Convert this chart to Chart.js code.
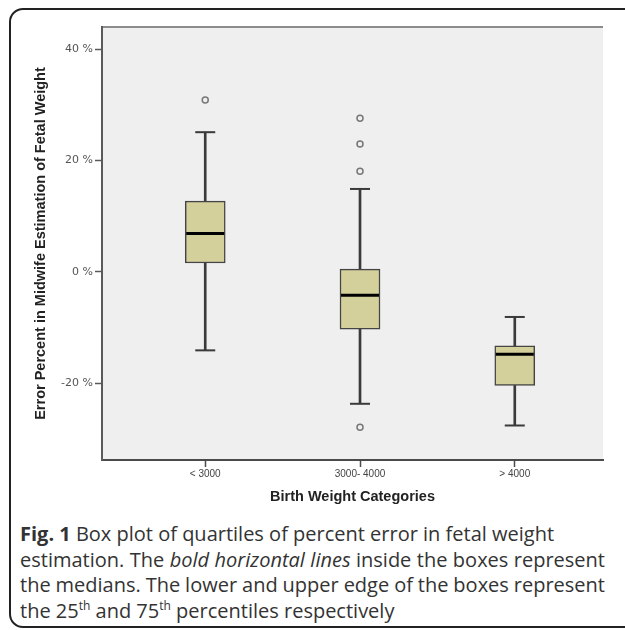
<!DOCTYPE html>
<html>
<head>
<meta charset="utf-8">
<script src="https://cdn.jsdelivr.net/npm/chart.js@4/dist/chart.umd.min.js"></script>
<style>
  html, body { margin: 0; padding: 0; background: #fff; }
  body { width: 625px; height: 630px; position: relative; overflow: hidden; }
  .frame {
    position: absolute; left: 9px; top: 8px; width: 660px; height: 620px;
    border: 2px solid #222; border-radius: 14px; box-sizing: border-box;
  }
  #wrap { position: absolute; left: 0; top: 0; width: 625px; height: 520px; }
  .caption {
    position: absolute; left: 20px; top: 521px; width: 585px;
    font-family: "Open Sans", sans-serif; font-size: 20px; line-height: 25.5px;
    color: #333; font-weight: 400;
  }
  .caption b { font-weight: 700; }
  .caption div { white-space: nowrap; }
  .caption .just { text-align: justify; text-align-last: justify; white-space: normal;
                   word-spacing: -4px; height: 25.5px; overflow: visible; }
  .caption sup { font-size: 12px; line-height: 0; vertical-align: 8px; }
</style>
</head>
<body>
<div class="frame"></div>
<div id="wrap"><canvas id="chart" width="625" height="520"></canvas></div>
<div class="caption">
  <div><b>Fig. 1</b> Box plot of quartiles of percent error in fetal weight</div>
  <div class="just">estimation. The <i>bold horizontal lines</i> inside the boxes represent</div>
  <div class="just">the medians. The lower and upper edge of the boxes represent</div>
  <div>the 25<sup>th</sup> and 75<sup>th</sup> percentiles respectively</div>
</div>
<script>
// Birth weight groups and their box plot statistics (percent error)
const CATEGORIES = ["< 3000", "3000- 4000", "> 4000"];
const X_POS = [1, 2, 3];
const MIN = [-14.1, -23.7, -27.6];
const Q1 = [1.6, -10.3, -20.4];
const MEDIAN = [6.9, -4.2, -14.8];
const Q3 = [12.7, 0.5, -13.3];
const MAX = [25.1, 14.9, -8.1];
const OUTLIERS = [[30.9], [27.6, 23.0, 18.1, -27.9], []];
const Y_TICKS = [-20, 0, 20, 40];
const Y_MIN = -33.8, Y_MAX = 44;
const X_MIN = 0.333, X_MAX = 3.57;

const BOX_FILL = "#d4d09b";
const LINE = "#3a3a3a";

const plotBg = {
  id: "plotBg",
  beforeDraw(chart) {
    const { ctx, chartArea: { left, top, right, bottom } } = chart;
    ctx.save();
    ctx.fillStyle = "#efefef";
    ctx.fillRect(left, top, right - left, bottom - top);
    ctx.strokeStyle = "#8c8c8c";
    ctx.lineWidth = 2;
    ctx.beginPath();
    ctx.moveTo(left, top);
    ctx.lineTo(right, top);
    ctx.stroke();
    ctx.restore();
  }
};

const whiskerUp = X_POS.map((x, i) => ({ x, y: [Q3[i], MAX[i]] }));
const whiskerDown = X_POS.map((x, i) => ({ x, y: [MIN[i], Q1[i]] }));
const boxes = X_POS.map((x, i) => ({ x, y: [Q1[i], Q3[i]] }));
const caps = X_POS.flatMap((x, i) => [{ x, y: MIN[i] }, { x, y: MAX[i] }]);
const medians = X_POS.map((x, i) => ({ x, y: MEDIAN[i] }));
const outliers = X_POS.flatMap((x, i) => OUTLIERS[i].map(y => ({ x, y })));

new Chart(document.getElementById("chart"), {
  type: "bar",
  data: {
    datasets: [
      { data: whiskerUp, backgroundColor: LINE, barThickness: 2, grouped: false, order: 5 },
      { data: whiskerDown, backgroundColor: LINE, barThickness: 2, grouped: false, order: 4 },
      { data: boxes, backgroundColor: BOX_FILL, borderColor: "#444", borderWidth: 1.5,
        borderSkipped: false, barThickness: 40, grouped: false, order: 3 },
      { type: "scatter", data: caps, pointStyle: "line", radius: 10, borderColor: LINE,
        borderWidth: 2, order: 2 },
      { type: "scatter", data: medians, pointStyle: "line", radius: 19, borderColor: "#000",
        borderWidth: 3, order: 1 },
      { type: "scatter", data: outliers, pointStyle: "circle", radius: 3, borderColor: "#777",
        backgroundColor: "#efefef", borderWidth: 1.5, order: 0 }
    ]
  },
  options: {
    responsive: false,
    animation: false,
    events: [],
    layout: { padding: { top: 27, right: 18, left: 0, bottom: 0 } },
    plugins: { legend: { display: false }, tooltip: { enabled: false } },
    scales: {
      x: {
        type: "linear", min: X_MIN, max: X_MAX, offset: false,
        afterFit: s => { s.height = 60; },
        afterBuildTicks: s => { s.ticks = X_POS.map(v => ({ value: v })); },
        border: { display: true, color: "#4a4a4a", width: 2 },
        grid: { offset: false, drawOnChartArea: false, drawTicks: true, tickLength: 7,
                tickColor: "#4a4a4a", tickWidth: 1.5 },
        ticks: {
          padding: 1, color: "#444", maxRotation: 0,
          font: { family: "'Liberation Sans Narrow', 'Liberation Sans', sans-serif", size: 10 },
          callback: v => CATEGORIES[X_POS.indexOf(v)]
        },
        title: {
          display: true, text: "Birth Weight Categories", color: "#222",
          font: { family: "'Liberation Sans', Arial, sans-serif", size: 14.5, weight: "bold" },
          padding: { top: 0, bottom: 14 }
        }
      },
      y: {
        min: Y_MIN, max: Y_MAX,
        afterFit: s => { s.width = 102; },
        afterBuildTicks: s => { s.ticks = Y_TICKS.map(v => ({ value: v })); },
        border: { display: true, color: "#5a5a5a", width: 2 },
        grid: { drawOnChartArea: false, drawTicks: true, tickLength: 7,
                tickColor: "#5a5a5a", tickWidth: 1.5 },
        ticks: {
          padding: 2, color: "#555",
          font: { family: "'DejaVu Sans', sans-serif", size: 11 },
          callback: v => v + " %"
        },
        title: {
          display: true, text: "Error Percent in Midwife Estimation of Fetal Weight", color: "#222",
          font: { family: "'Liberation Sans', Arial, sans-serif", size: 14.5, weight: "bold" },
          padding: { top: 32, bottom: 0 }
        }
      }
    }
  },
  plugins: [plotBg]
});
</script>
</body>
</html>
